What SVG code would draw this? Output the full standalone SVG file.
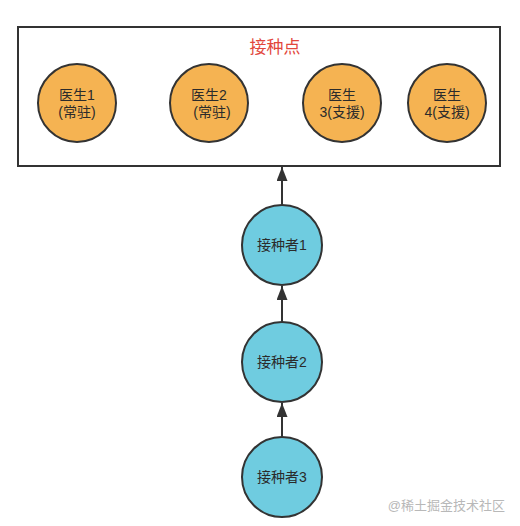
<svg xmlns="http://www.w3.org/2000/svg" width="520" height="526" viewBox="0 0 520 526">
<style>
.t{font-family:"Liberation Sans","Noto Sans CJK SC",sans-serif;font-size:14px;fill:#2b2b2b;text-anchor:middle}
.doc{fill:#F5B352;stroke:#333;stroke-width:2}
.pt{fill:#6FCCE0;stroke:#333;stroke-width:2}
.c{stroke:#333;stroke-width:2;fill:none}
</style>
<defs>
<marker id="ah" markerWidth="14" markerHeight="11" refX="14" refY="5.5" orient="auto" markerUnits="userSpaceOnUse" viewBox="0 0 14 11">
<path d="M0,0 L14,5.5 L0,11 Z" fill="#333"/>
</marker>
</defs>
<rect width="520" height="526" fill="#fff"/>
<g id="site">
<rect x="18" y="27" width="482" height="139" fill="#fff" stroke="#333" stroke-width="2"/>
<text x="275" y="53" style="font-family:'Liberation Sans','Noto Sans CJK SC',sans-serif;font-size:17px;fill:#E2473C;text-anchor:middle">接种点</text>
</g>
<g id="doc1"><circle class="doc" cx="77" cy="103" r="39"/><text class="t" x="77" y="100">医生1</text><text class="t" x="77" y="117">(常驻)</text></g>
<g id="doc2"><circle class="doc" cx="209" cy="103" r="39"/><text class="t" x="209" y="100">医生2</text><text class="t" x="212" y="117">(常驻)</text></g>
<g id="doc3"><circle class="doc" cx="342" cy="103" r="39"/><text class="t" x="342" y="100">医生</text><text class="t" x="342" y="117">3(支援)</text></g>
<g id="doc4"><circle class="doc" cx="447" cy="103" r="39"/><text class="t" x="447" y="100">医生</text><text class="t" x="447" y="117">4(支援)</text></g>
<g id="p1"><circle class="pt" cx="282" cy="245" r="40"/><text class="t" x="282" y="250">接种者1</text></g>
<g id="p2"><circle class="pt" cx="282" cy="362" r="40"/><text class="t" x="282" y="367">接种者2</text></g>
<g id="p3"><circle class="pt" cx="282" cy="477" r="40"/><text class="t" x="282" y="482">接种者3</text></g>
<g id="connectors">
<line class="c" x1="282" y1="205" x2="282" y2="167" marker-end="url(#ah)"/>
<line class="c" x1="282" y1="322" x2="282" y2="286" marker-end="url(#ah)"/>
<line class="c" x1="282" y1="437" x2="282" y2="403" marker-end="url(#ah)"/>
</g>
<text x="505" y="510" style="font-family:'Liberation Sans','Noto Sans CJK SC',sans-serif;font-size:13px;fill:#b8b8b8;text-anchor:end">@稀土掘金技术社区</text>
</svg>
